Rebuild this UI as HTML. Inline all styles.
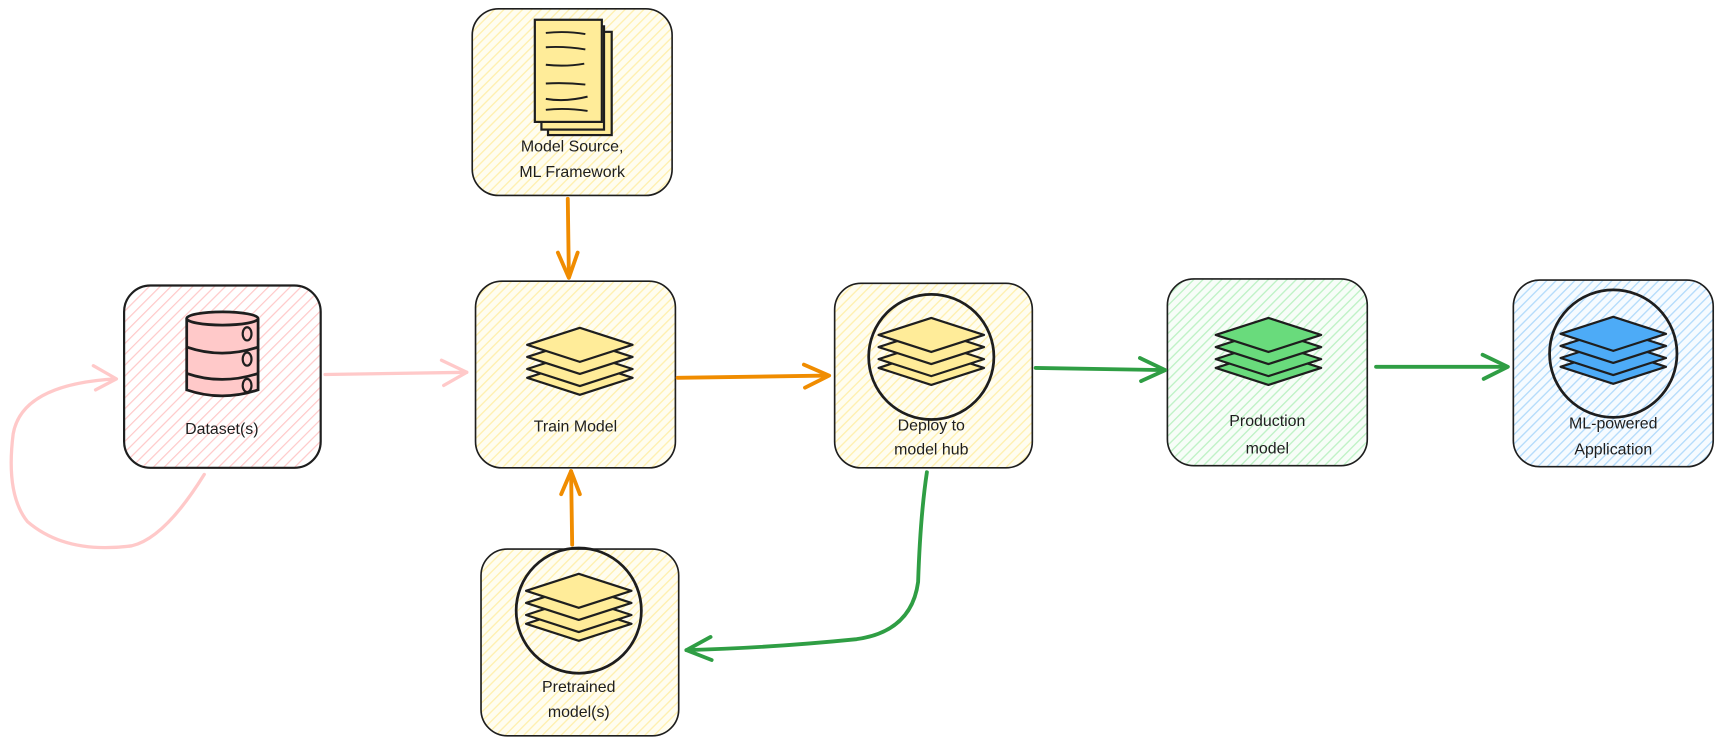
<!DOCTYPE html>
<html><head><meta charset="utf-8"><style>
html,body{margin:0;padding:0;background:#fff}
svg{display:block}
text{font-family:"Liberation Sans",sans-serif;font-size:14.5px;fill:#1e1e1e;text-anchor:middle}
</style></head><body>
<svg width="1722" height="747" viewBox="0 0 1568 680.2" xmlns="http://www.w3.org/2000/svg">
<defs>
<pattern id="hp" patternUnits="userSpaceOnUse" width="7" height="7" patternTransform="rotate(45)"><rect width="7" height="7" fill="#fff"/><line x1="0" y1="0" x2="0" y2="7" stroke="#ffc9c9" stroke-width="2.2"/></pattern>
<pattern id="hy" patternUnits="userSpaceOnUse" width="6" height="6" patternTransform="rotate(45)"><rect width="6" height="6" fill="#fffdf0"/><line x1="0" y1="0" x2="0" y2="6" stroke="#fff0b0" stroke-width="2.5"/></pattern>
<pattern id="hg" patternUnits="userSpaceOnUse" width="6" height="6" patternTransform="rotate(45)"><rect width="6" height="6" fill="#f7fdf8"/><line x1="0" y1="0" x2="0" y2="6" stroke="#bff2c6" stroke-width="2.5"/></pattern>
<pattern id="hb" patternUnits="userSpaceOnUse" width="6" height="6" patternTransform="rotate(45)"><rect width="6" height="6" fill="#f6fbff"/><line x1="0" y1="0" x2="0" y2="6" stroke="#b5dcfb" stroke-width="2.5"/></pattern>
<g id="stk" stroke="#1e1e1e" stroke-width="2" stroke-linejoin="round">
<path d="M-48 30 L0 14.5 L48 30 L0 45.5Z"/>
<path d="M-48 22 L0 6.5 L48 22 L0 37.5Z"/>
<path d="M-48 11 L0 -4.5 L48 11 L0 26.5Z"/>
<path d="M-48 0 L0 -15.5 L48 0 L0 15.5Z"/>
</g>
</defs>

<rect x="113" y="260" width="179" height="166" rx="24" fill="url(#hp)" stroke="#1e1e1e" stroke-width="2"/>
<rect x="433" y="256" width="182" height="170" rx="24" fill="url(#hy)" stroke="#1e1e1e" stroke-width="1.5"/>
<rect x="430" y="8" width="182" height="170" rx="24" fill="url(#hy)" stroke="#1e1e1e" stroke-width="1.5"/>
<rect x="760" y="258" width="180" height="168" rx="24" fill="url(#hy)" stroke="#1e1e1e" stroke-width="1.5"/>
<rect x="1063" y="254" width="182" height="170" rx="24" fill="url(#hg)" stroke="#1e1e1e" stroke-width="1.5"/>
<rect x="1378" y="255" width="182" height="170" rx="24" fill="url(#hb)" stroke="#1e1e1e" stroke-width="1.5"/>
<rect x="438" y="500" width="180" height="170" rx="24" fill="url(#hy)" stroke="#1e1e1e" stroke-width="1.5"/>

<g stroke="#1e1e1e" stroke-width="2.5" fill="#ffc9c9">
<path d="M170 290 L170 355 Q202 366 235 355 L235 290"/>
<ellipse cx="202.5" cy="290" rx="32.5" ry="6"/>
<path d="M170 316 Q202 327 235 316" fill="none"/>
<path d="M170 340 Q202 351 235 340" fill="none"/>
<ellipse cx="225" cy="304" rx="4" ry="6" fill="none" stroke-width="2"/>
<ellipse cx="225" cy="327" rx="4" ry="6" fill="none" stroke-width="2"/>
<ellipse cx="225" cy="351" rx="4" ry="6" fill="none" stroke-width="2"/>
</g>

<g stroke="#1e1e1e" stroke-width="2" fill="#ffec99">
<rect x="499" y="29" width="58" height="94"/>
<rect x="493" y="24" width="57" height="94"/>
<rect x="487" y="18" width="61" height="93"/>
<g fill="none" stroke-width="1.8">
<path d="M497 30 Q515 28 533 31"/><path d="M497 43 Q515 42 533 45"/><path d="M497 59 Q515 61 532 58"/><path d="M497 76 Q515 75 533 77"/><path d="M497 90 Q515 93 535 88"/><path d="M497 100 Q515 98 535 101"/>
</g>
</g>

<use href="#stk" x="528" y="314" fill="#ffec99"/>
<circle cx="848" cy="325" r="57" fill="none" stroke="#1e1e1e" stroke-width="2.5"/>
<use href="#stk" x="848" y="305" fill="#ffec99"/>
<use href="#stk" x="1155" y="305" fill="#69db7c"/>
<circle cx="1469" cy="322" r="58" fill="none" stroke="#1e1e1e" stroke-width="2.5"/>
<use href="#stk" x="1469" y="304" fill="#4dabf7"/>
<circle cx="527" cy="556" r="57" fill="none" stroke="#1e1e1e" stroke-width="2.5"/>
<use href="#stk" x="527" y="538" fill="#ffec99"/>

<text x="202" y="395">Dataset(s)</text>
<text x="524" y="393">Train Model</text>
<text x="521" y="138">Model Source,</text>
<text x="521" y="161">ML Framework</text>
<text x="848" y="392">Deploy to</text>
<text x="848" y="414">model hub</text>
<text x="1154" y="388">Production</text>
<text x="1154" y="413">model</text>
<text x="1469" y="390">ML-powered</text>
<text x="1469" y="414">Application</text>
<text x="527" y="630">Pretrained</text>
<text x="527" y="653">model(s)</text>

<g fill="none" stroke-linecap="round" stroke-linejoin="round">
<g stroke="#ffc9c9" stroke-width="3">
<path d="M296 341 L425 339"/><path d="M402 328 L425 339 L404 351"/>
<path d="M186 432 Q150 490 120 497 Q60 505 25 475 Q5 450 12 395 Q20 350 105 345"/><path d="M85 333 L106 345 L87 355"/>
</g>
<g stroke="#f08c00" stroke-width="3.5">
<path d="M517 181 L518 252"/><path d="M508 230 L518 253 L526 230"/>
<path d="M521 496 L520 429"/><path d="M511 450 L520 429 L528 450"/>
<path d="M617 344 L754 342"/><path d="M732 332 L755 342 L733 353"/>
</g>
<g stroke="#2f9e44" stroke-width="3.5">
<path d="M943 335 L1060 337"/><path d="M1038 326 L1061 337 L1039 347"/>
<path d="M1253 334 L1372 334"/><path d="M1350 323 L1373 334 L1351 345"/>
<path d="M844 430 Q838 470 836 530 Q830 575 780 582 Q700 590 625 592"/><path d="M647 580 L625 592 L648 601"/>
</g>
</g>
</svg>
</body></html>
